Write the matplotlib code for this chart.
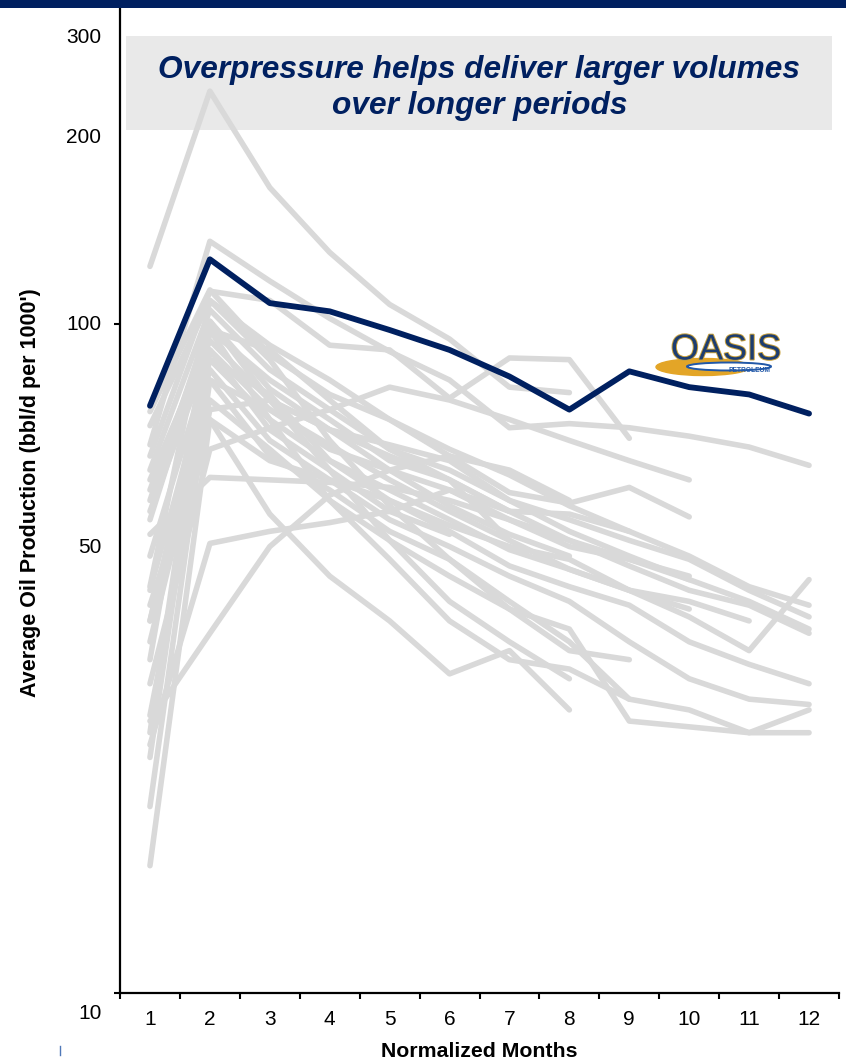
import numpy as np
import matplotlib
matplotlib.use("Agg")
from matplotlib import pyplot as plt
from matplotlib.patches import Rectangle, Ellipse
from matplotlib.lines import Line2D
from matplotlib import patheffects as pe
from matplotlib.ticker import FixedLocator, NullLocator
from matplotlib.transforms import blended_transform_factory

plt.rcParams['font.family'] = ['Liberation Sans', 'DejaVu Sans']

months = np.arange(1, 13)
month_labels = [str(m) for m in months]

# Oasis wells average (bbl/d per 1000')
oasis = [75.5, 125, 107.5, 104.5, 98, 91.5, 83.5, 74.5, 85, 80.5, 78.5, 73.5]

# peer wells, each starting at month 1 (some have fewer months)
peers = [
    [122, 223, 160, 128, 107, 95, 80.5, 79],
    [66, 133, 116, 102, 91, 82.5, 70, 71, 70, 68, 65.5, 61.5],
    [63.5, 112, 108.5, 93, 91.5, 77.5, 89, 88.5, 67.5],
    [70.5, 108.5, 93, 82.5, 72, 63.5, 56, 54, 57, 51.5],
    [51, 98, 82.5, 72, 62.5, 58.5, 47.5, 43, 40, 36.5, 32.5, 41.5],
    [54.5, 101, 80, 69.5, 63.5, 58.5, 52.5, 52, 49, 45, 40.5, 38],
    [60.5, 105, 85.5, 74.5, 65, 60.5, 54.5, 51, 47.5, 44.5, 40, 36.5],
    [58.5, 94.5, 77, 69.5, 66, 62.5, 54.5, 49, 45, 41.5, 38.5, 35],
    [52.5, 91.5, 74.5, 65, 60.5, 56.5, 51, 47.5, 43.5, 40, 38, 34.5],
    [45, 88.5, 72, 62.5, 54.5, 49, 43.5, 40.5, 38, 33.5, 31, 29],
    [40, 85.5, 67, 58.5, 51, 46.5, 42, 38.5, 33.5, 29.5, 27.5, 27],
    [36, 82.5, 63.5, 56.5, 49, 44.5, 38.5, 33.5, 27.5, 26.5, 24.5, 26.5],
    [33.5, 77, 65, 54.5, 47.5, 42, 37.5, 35, 25.5, 25, 24.5, 24.5],
    [38, 72, 52, 42, 36, 30, 32.5, 26.5],
    [23.5, 47, 49, 50.5, 52.5, 56.5, 52.5, 47.5, 44.5, 41.5],
    [25.5, 34.5, 46.5, 55.5, 60.5, 63.5, 60.5, 54.5],
    [29, 65, 70, 74.5, 80.5, 77, 72, 67, 62.5, 58.5],
    [48.5, 59, 58.5, 58, 57, 54.5, 51, 46.5, 44.5, 42],
    [40.5, 108.5, 88.5, 67, 53.5, 44.5, 37.5, 32.5, 31.5],
    [31.5, 101, 77, 60.5, 47.5, 38.5, 33.5, 29.5],
    [24.5, 98, 72, 54.5, 44.5, 36, 31.5, 30.5, 27.5],
    [22.5, 91.5, 69.5, 60.5, 52.5, 48.5],
    [19, 82.5, 74.5, 66, 58.5, 52.5, 47.5],
    [15.5, 72, 62.5, 58.5, 54.5, 50, 46.5, 44.5, 40, 37.5],
    [26, 74.5, 77, 69.5, 60.5, 53.5, 48.5, 45],
    [36, 88.5, 78.5, 62.5, 56.5, 51, 46, 43, 40, 38.5, 36],
    [56.5, 98, 91.5, 77, 65, 58.5, 52.5],
    [74, 112.5, 90, 78.5, 72, 65, 59.5, 53.5, 49],
]

ytick_text = ['10', '50', '100', '200', '300']
ytick_spots = [9.33, 46.3, 100, 190, 268.6]

navy = '#002060'
grey = '#d9d9d9'

fig = plt.figure(figsize=(8.46, 10.6), dpi=100)
ax = fig.add_axes([120 / 846, 67 / 1060, 719 / 846, 988 / 1060])

for vals in peers:
    ax.plot(months[:len(vals)], vals, color=grey, lw=4,
            solid_capstyle='round', solid_joinstyle='round', zorder=2)
ax.plot(months, oasis, color=navy, lw=4.2,
        solid_capstyle='round', solid_joinstyle='round', zorder=3)

ax.set_yscale('log')
ax.set_ylim(10, 300)
ax.set_xlim(0.5, 12.5)

ax.yaxis.set_major_locator(FixedLocator([10, 100]))
ax.yaxis.set_minor_locator(NullLocator())
ax.tick_params(axis='y', which='major', length=4.3, width=1.5, labelleft=False)

ax.set_xticks(months, month_labels)
ax.xaxis.set_minor_locator(FixedLocator(np.arange(0.5, 13, 1)))
ax.tick_params(axis='x', which='major', length=0, pad=12, labelsize=15)
ax.tick_params(axis='x', which='minor', length=4.3, width=1.5, direction='out')

for side in ['top', 'right']:
    ax.spines[side].set_visible(False)
for side in ['left', 'bottom']:
    ax.spines[side].set_linewidth(1.6)

trans = blended_transform_factory(ax.transAxes, ax.transData)
for spot, txt in zip(ytick_spots, ytick_text):
    ax.text(-0.026, spot, txt, transform=trans, ha='right', va='center',
            fontsize=15, clip_on=False)

ax.set_xlabel('Normalized Months', fontsize=15.3, fontweight='bold')
ax.xaxis.set_label_coords(0.5, -0.0597)
ax.xaxis.label.set_va('center')
ax.set_ylabel("Average Oil Production (bbl/d per 1000')", fontsize=15.5, fontweight='bold')
ax.yaxis.set_label_coords(-0.125, 0.506)
ax.yaxis.label.set_va('center')

# headline box
ax.add_patch(Rectangle((0.0083, 0.8735), 0.9817, 0.0951, transform=ax.transAxes,
                       fc='#e9e9e9', ec='none', zorder=0.5))
ax.text(0.5, 0.916, 'Overpressure helps deliver larger volumes\nover longer periods',
        transform=ax.transAxes, ha='center', va='center', fontsize=22.8,
        fontweight='bold', fontstyle='italic', color=navy, linespacing=1.22, zorder=5)

# company logo
lax = fig.add_axes([655 / 846, 1 - 378 / 1060, 140 / 846, 48 / 1060])
lax.set_xlim(0, 140)
lax.set_ylim(48, 0)
lax.axis('off')
lax.add_patch(Ellipse((48, 37), 94, 17, color='#e3a527'))
lax.add_patch(Ellipse((74, 36.5), 84, 8, fc='white', ec='#2158a8', lw=1.4))
lax.text(71, 20, 'OASIS', ha='center', va='center', fontsize=26, color='#1d3d70',
         path_effects=[pe.withStroke(linewidth=1.4, foreground='#c9a13b')])
lax.text(94, 40, 'PETROLEUM', ha='center', va='center', fontsize=4.8,
         color='#2158a8', fontweight='bold')

# top band
fig.add_artist(Rectangle((0, 1 - 8 / 1060), 1, 8 / 1060, transform=fig.transFigure,
                         fc=navy, ec='none', zorder=10))
# small slide mark at the lower left corner
fig.add_artist(Line2D([60 / 846, 60 / 846], [1 - 1055 / 1060, 1 - 1046 / 1060],
                      transform=fig.transFigure, color='#4f78b8', lw=1))

fig.savefig('out.png', dpi=100)
